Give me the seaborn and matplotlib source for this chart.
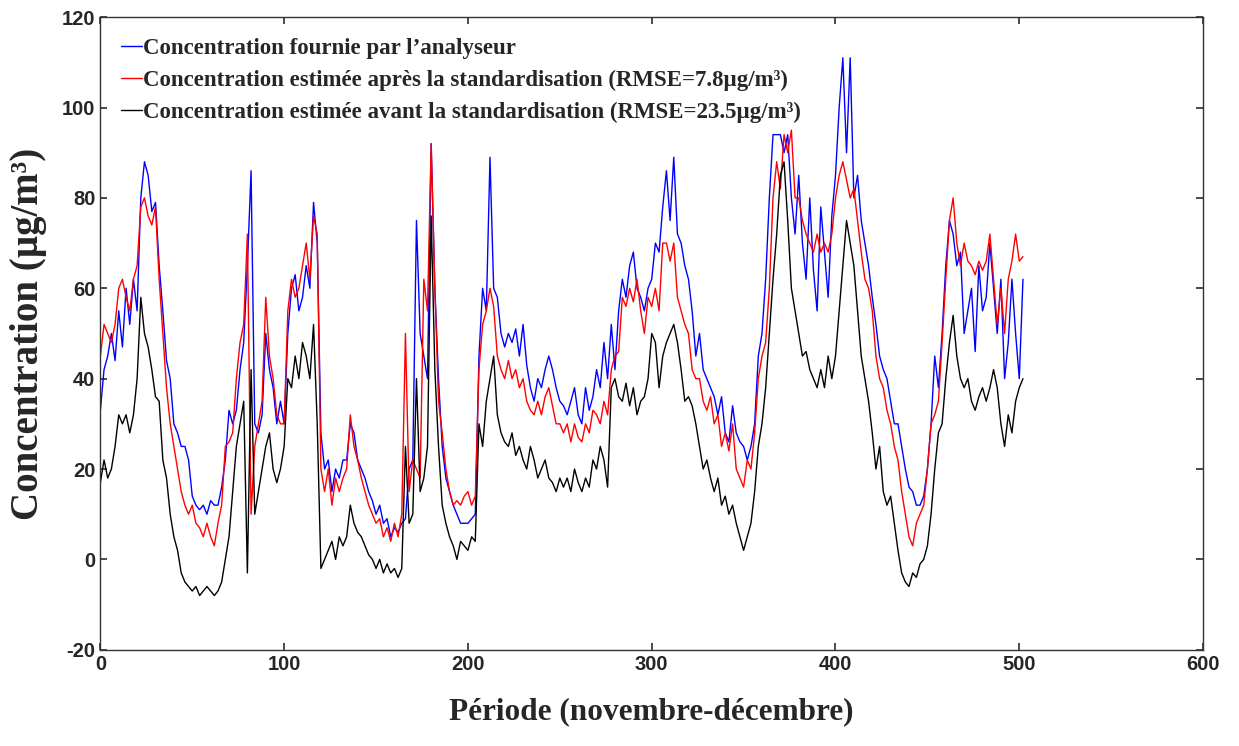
import numpy as np
import pandas as pd
import matplotlib
matplotlib.use("Agg")
import matplotlib.pyplot as plt
import seaborn as sns

# valeurs, un point tous les 2 pas de temps (0 .. 502)
analyseur = [
    33, 42, 45, 50, 44, 55, 47, 60, 52, 62,
    55, 80, 88, 85, 77, 79, 65, 55, 44, 40,
    30, 28, 25, 25, 22, 14, 12, 11, 12, 10,
    13, 12, 12, 16, 22, 33, 30, 33, 42, 48,
    65, 86, 30, 28, 32, 50, 42, 38, 30, 35,
    30, 50, 60, 63, 55, 58, 65, 60, 79, 70,
    28, 20, 22, 15, 20, 18, 22, 22, 30, 28,
    22, 20, 18, 15, 13, 10, 12, 8, 9, 5,
    7, 6, 8, 9, 20, 22, 75, 50, 45, 40,
    92, 60, 40, 25, 18, 15, 12, 10, 8, 8,
    8, 9, 10, 45, 60, 55, 89, 60, 58, 50,
    47, 50, 48, 51, 45, 52, 43, 38, 35, 40,
    38, 42, 45, 42, 38, 35, 34, 32, 35, 38,
    32, 30, 38, 33, 36, 42, 38, 48, 40, 52,
    42, 55, 62, 58, 65, 68, 60, 58, 55, 60,
    62, 70, 68, 78, 86, 75, 89, 72, 70, 65,
    62, 55, 45, 50, 42, 40, 38, 36, 32, 36,
    28, 26, 34, 28, 26, 25, 22, 25, 30, 45,
    50, 62, 80, 94, 94, 94, 90, 94, 80, 72,
    85, 70, 62, 80, 64, 55, 78, 68, 58, 76,
    85, 100, 111, 90, 111, 80, 85, 75, 70, 65,
    58, 52, 45, 42, 40, 35, 30, 30, 25, 20,
    16, 15, 12, 12, 14, 20, 30, 45, 38, 50,
    65, 75, 72, 65, 68, 50, 55, 60, 46, 65,
    55, 58, 70, 60, 50, 62, 40, 48, 62, 50,
    40, 62,
]

apres_std = [
    45, 52, 50, 48, 52, 60, 62, 58, 55, 62,
    65, 78, 80, 76, 74, 78, 62, 50, 38, 30,
    25, 20, 15, 12, 10, 12, 8, 7, 5, 8,
    5, 3, 8, 12, 25, 26, 28, 40, 48, 52,
    72, 10, 25, 30, 35, 58, 45, 40, 32, 30,
    30, 55, 62, 58, 60, 65, 70, 62, 76, 72,
    20, 15, 20, 12, 18, 15, 18, 20, 32, 25,
    22, 18, 15, 12, 10, 8, 9, 5, 7, 4,
    8, 5, 10, 50, 15, 22, 20, 18, 62, 55,
    92, 60, 35, 28, 20, 15, 12, 13, 12, 14,
    15, 12, 14, 42, 52, 55, 60, 56, 45, 42,
    40, 44, 40, 42, 38, 40, 35, 33, 32, 35,
    32, 36, 38, 34, 30, 30, 28, 30, 26, 30,
    27, 26, 30, 28, 33, 32, 30, 35, 32, 42,
    45, 46, 58, 56, 60, 57, 62, 55, 50, 58,
    56, 60, 55, 70, 70, 66, 70, 58, 55, 52,
    50, 42, 40, 40, 35, 33, 36, 30, 32, 25,
    28, 24, 30, 20, 18, 16, 22, 20, 28, 40,
    45, 48, 60, 80, 88, 82, 94, 90, 95, 80,
    80, 75, 72, 70, 68, 72, 68, 70, 68, 72,
    80, 85, 88, 84, 80, 82, 75, 68, 62, 60,
    55, 45, 40, 38, 33, 30, 25, 22, 15, 10,
    5, 3, 8, 10, 12, 20, 30, 32, 35, 48,
    62, 75, 80, 70, 65, 70, 66, 65, 63, 66,
    64, 66, 72, 62, 52, 60, 50, 62, 66, 72,
    66, 67,
]

avant_std = [
    17, 22, 18, 20, 25, 32, 30, 32, 28, 32,
    40, 58, 50, 47, 42, 36, 35, 22, 18, 10,
    5, 2, -3, -5, -6, -7, -6, -8, -7, -6,
    -7, -8, -7, -5, 0, 5, 15, 25, 30, 35,
    -3, 42, 10, 15, 20, 25, 28, 20, 17, 20,
    25, 40, 38, 45, 40, 48, 45, 40, 52, 30,
    -2, 0, 2, 4, 0, 5, 3, 5, 12, 8,
    6, 5, 3, 1, 0, -2, 0, -3, -1, -3,
    -2, -4, -2, 25, 8, 10, 40, 15, 18, 25,
    76, 42, 25, 12, 8, 5, 3, 0, 4, 3,
    2, 5, 4, 30, 25, 35, 40, 45, 32, 28,
    26, 25, 28, 23, 25, 22, 20, 25, 22, 18,
    20, 22, 18, 17, 15, 18, 16, 18, 15, 20,
    17, 15, 18, 16, 22, 20, 25, 22, 16, 38,
    40, 36, 35, 39, 34, 38, 32, 35, 36, 40,
    50, 48, 38, 45, 48, 50, 52, 48, 42, 35,
    36, 34, 30, 25, 20, 22, 18, 15, 18, 12,
    14, 10, 12, 8, 5, 2, 5, 8, 15, 25,
    30, 38, 50, 62, 72, 85, 88, 75, 60, 55,
    50, 45, 46, 42, 40, 38, 42, 38, 45, 40,
    45, 55, 65, 75, 70, 65, 55, 45, 40, 35,
    28, 20, 25, 15, 12, 14, 8, 2, -3, -5,
    -6, -3, -4, -1, 0, 3, 10, 20, 28, 30,
    40, 48, 54, 45, 40, 38, 40, 35, 33, 36,
    38, 35, 38, 42, 38, 30, 25, 32, 28, 35,
    38, 40,
]

series_labels = [
    "Concentration fournie par l\u2019analyseur",
    "Concentration estimée après la standardisation (RMSE=7.8µg/m³)",
    "Concentration estimée avant la standardisation (RMSE=23.5µg/m³)",
]
colors = ["#0000ff", "#ff0000", "#000000"]

step = 2
frames = []
for values, lab in zip([analyseur, apres_std, avant_std], series_labels):
    frames.append(pd.DataFrame({
        "periode": np.arange(len(values)) * step,
        "conc": values,
        "serie": lab,
    }))
df = pd.concat(frames, ignore_index=True)

sns.set_theme(style="ticks")
plt.rcParams["font.family"] = ["Liberation Sans", "DejaVu Sans"]
plt.rcParams["axes.unicode_minus"] = False

fig = plt.figure(figsize=(12.39, 7.46), dpi=100)
ax = fig.add_axes([0.081, 0.129, 0.890, 0.848])

sns.lineplot(data=df, x="periode", y="conc", hue="serie", hue_order=series_labels,
             palette=colors, linewidth=1.0, estimator=None, ax=ax)

ax.set_xlim(0, 600)
ax.set_ylim(-20, 120)
ax.set_xticks(range(0, 601, 100))
ax.set_yticks(range(-20, 121, 20))
ax.tick_params(direction="in", top=True, right=True, labelsize=14.5, length=5,
               color="#333333")
for t in ax.get_xticklabels() + ax.get_yticklabels():
    t.set_fontweight("bold")
for sp in ax.spines.values():
    sp.set_color("#333333")
    sp.set_linewidth(1.0)

serif = ["Liberation Serif", "DejaVu Serif"]
ax.set_xlabel("Période (novembre-décembre)", family=serif, weight="bold", fontsize=22.5)
ax.set_ylabel("Concentration (µg/m³)", family=serif, weight="bold", fontsize=28)
ax.xaxis.set_label_coords(0.5, -0.075)
ax.yaxis.set_label_coords(-0.048, 0.5)

handles, labels = ax.get_legend_handles_labels()
ax.legend(handles, labels, loc="upper left", bbox_to_anchor=(0.0, 1.0),
          frameon=False, handlelength=0.9, handletextpad=0.08, labelspacing=0.48,
          prop={"family": serif, "weight": "bold", "size": 16.5})

fig.savefig("out.png", dpi=100)
